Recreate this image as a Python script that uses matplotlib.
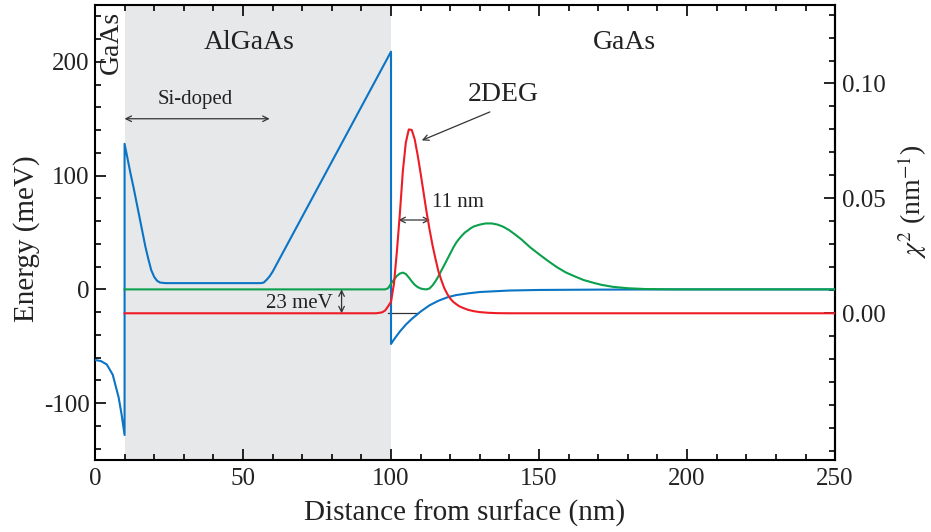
import matplotlib
matplotlib.use("Agg")
import matplotlib.pyplot as plt
from matplotlib.ticker import MultipleLocator, FixedLocator, FormatStrFormatter

plt.rcParams['font.family'] = ['Liberation Serif', 'DejaVu Serif']
plt.rcParams['mathtext.fontset'] = 'stix'
plt.rcParams['axes.unicode_minus'] = False

# ---- data ----
# conduction band (meV) vs distance (nm)
band_x = [0, 2, 4, 6, 8, 9, 10, 10, 11, 12, 13, 14, 15, 16, 17, 18, 19, 20, 21, 22, 24,
          40, 56, 57, 58, 59, 60, 100, 100, 101, 102, 103, 105, 107, 110, 113, 116,
          119, 122, 126, 130, 140, 150, 170, 200, 250]
band_e = [-62, -63, -66, -75, -95, -110, -128, 128, 115, 102, 90, 77, 64, 51, 38, 27, 17,
          11, 7.5, 6, 5.5, 5.5, 5.5, 6, 8.5, 11.5, 15.5, 209, -48, -44, -40.5, -37, -31,
          -26, -19.5, -14, -10, -7, -5, -3.5, -2.3, -1, -0.5, -0.2, 0, 0]

# ground state |chi|^2 (nm^-1), level E1 (meV)
E1 = -21.0
chi1_x = [10, 95, 97, 98, 99, 100, 101, 102, 103, 104, 105, 106, 107, 108, 109, 110, 111,
          112, 113, 114, 115, 116, 117, 118, 119, 120, 121, 122, 123, 124, 125, 126, 128,
          130, 133, 136, 140, 250]
chi1 = [0, 0, 0.0004, 0.0012, 0.003, 0.005, 0.0129, 0.0272, 0.0436, 0.0619, 0.0743,
        0.08, 0.0798, 0.0757, 0.0688, 0.0609, 0.0525, 0.0441, 0.0366, 0.0297, 0.0238,
        0.0183, 0.0144, 0.0109, 0.0084, 0.0064, 0.005, 0.004, 0.0031, 0.0025, 0.002,
        0.0015, 0.0009, 0.0005, 0.0002, 0.00005, 0, 0]

# first excited state |chi|^2 (nm^-1), level E2 (meV)
E2 = 0.0
chi2_x = [10, 98, 99, 100, 101, 102, 103, 104, 105, 106, 107, 108, 109, 110, 111, 112, 113,
          114, 115, 116, 117, 118, 119, 120, 121, 122, 123, 124, 125, 126, 127, 128, 130,
          132, 134, 136, 138, 140, 142, 144, 147, 150, 153, 156, 159, 162, 165, 168, 171,
          175, 180, 186, 195, 200, 250]
chi2 = [0, 0, 0.0005, 0.0025, 0.0042, 0.0059, 0.0069, 0.0073, 0.0067, 0.0052, 0.0035,
        0.002, 0.001, 0.0004, 0.0001, 0, 0.0004, 0.0017, 0.0035, 0.0057, 0.0082,
        0.0106, 0.0131, 0.0156, 0.0181, 0.0203, 0.022, 0.0235, 0.0248, 0.0257, 0.0267,
        0.0274, 0.0282, 0.0287, 0.0287, 0.0282, 0.0272, 0.0257, 0.0238, 0.0218,
        0.0183, 0.0153, 0.0124, 0.0097, 0.0074, 0.0057, 0.0041, 0.003, 0.002,
        0.0011, 0.0005, 0.00015, 0.00002, 0, 0]

right_ticks = [0.00, 0.05, 0.10]

MEV_PER_CHI = 101.0 / 0.05   # right-axis scale: meV per nm^-1

BLUE = '#0b74c4'
RED = '#ee1c25'
GREEN = '#0ba04c'
TXT = '#222222'

fig = plt.figure(figsize=(9.31, 5.32), dpi=100)
ax = fig.add_axes([0.102, 0.1353, 0.795, 0.8553])

ax.axvspan(10, 100, color='#e7e8ea', lw=0, zorder=0)

ax.plot(band_x, band_e, color=BLUE, lw=1.5, zorder=3)
ax.plot(chi2_x, [E2 + c * MEV_PER_CHI for c in chi2], color=GREEN, lw=1.5, zorder=3)
ax.plot(chi1_x, [E1 + c * MEV_PER_CHI for c in chi1], color=RED, lw=1.5, zorder=4)
ax.plot([99, 109], [E1, E1], color='#333333', lw=0.9, zorder=2)

ax.set_xlim(0, 250)
ax.set_ylim(-150, 250)
ax.xaxis.set_major_locator(MultipleLocator(50))
ax.xaxis.set_minor_locator(MultipleLocator(10))
ax.yaxis.set_major_locator(MultipleLocator(100))
ax.yaxis.set_minor_locator(MultipleLocator(20))
ax.tick_params(which='both', direction='in', top=True, right=False, labelsize=18,
               width=1.2, labelcolor=TXT)
ax.tick_params(axis='y', pad=4)
ax.tick_params(axis='x', pad=6)
ax.tick_params(which='major', length=8)
ax.tick_params(which='minor', length=4)
for s in ax.spines.values():
    s.set_linewidth(1.5)

sec = ax.secondary_yaxis('right', functions=(lambda e: (e - E1) / MEV_PER_CHI,
                                              lambda c: c * MEV_PER_CHI + E1))
sec.yaxis.set_major_locator(FixedLocator(right_ticks))
sec.yaxis.set_minor_locator(MultipleLocator(0.01))
sec.yaxis.set_major_formatter(FormatStrFormatter('%.2f'))
sec.tick_params(which='both', direction='in', labelsize=18, width=1.2, pad=5, labelcolor=TXT)
sec.tick_params(which='major', length=8)
sec.tick_params(which='minor', length=4)
sec.spines['right'].set_linewidth(1.5)
fig.text(912 / 931, 1 - 202 / 532, r'$\chi^2$ (nm$^{-1}$)', fontsize=20, color=TXT,
         rotation=90, ha='center', va='center')

ax.set_xlabel('Distance from surface (nm)', fontsize=21, labelpad=7, color=TXT)
ax.set_ylabel('Energy (meV)', fontsize=21, color=TXT)
ax.yaxis.set_label_coords(-0.0746, 0.486)

# region labels
ax.text(52, 217, 'AlGaAs', fontsize=20, ha='center', va='center', color=TXT)
ax.text(179, 217, 'GaAs', fontsize=20, ha='center', va='center', color=TXT)
ax.text(5.6, 217, 'GaAs', fontsize=20, ha='center', va='center', rotation=90, color=TXT)

# Si-doped arrow
ax.annotate('', xy=(10, 150), xytext=(59, 150),
            arrowprops=dict(arrowstyle='<->', color='#333333', lw=0.9, shrinkA=0, shrinkB=0))
ax.text(34, 167, 'Si-doped', fontsize=15, ha='center', va='center', color=TXT)

# 2DEG
ax.annotate('', xy=(110.4, 131), xytext=(133.4, 156),
            arrowprops=dict(arrowstyle='->', color='#333333', lw=0.9, shrinkA=0, shrinkB=0))
ax.text(138, 171, '2DEG', fontsize=20, ha='center', va='center', color=TXT)

# 11 nm width
ax.annotate('', xy=(102.5, 61), xytext=(113.2, 61),
            arrowprops=dict(arrowstyle='<->', color='#333333', lw=0.9, shrinkA=0, shrinkB=0))
ax.text(122.6, 76, '11 nm', fontsize=15, ha='center', va='center', color=TXT)

# 23 meV
ax.annotate('', xy=(83.3, E2), xytext=(83.3, E1),
            arrowprops=dict(arrowstyle='<->', color='#333333', lw=0.9, shrinkA=0, shrinkB=0))
ax.text(69, -12, '23 meV', fontsize=15, ha='center', va='center', color=TXT)

fig.savefig('out.png', dpi=100)
